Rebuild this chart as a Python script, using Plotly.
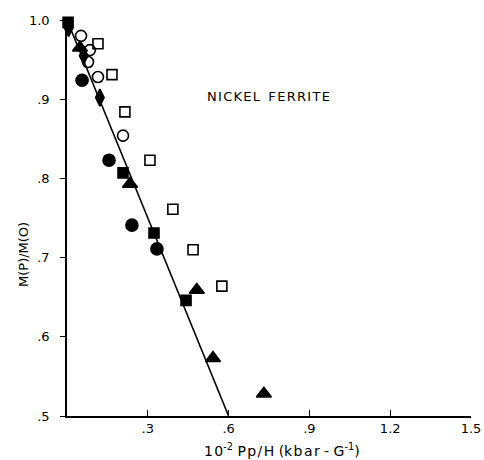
import plotly.graph_objects as go

# Data
open_sq_x = [0.115, 0.167, 0.215, 0.308, 0.393, 0.468, 0.575]
open_sq_y = [0.970, 0.931, 0.884, 0.823, 0.761, 0.710, 0.664]

open_circ_x = [0.052, 0.085, 0.078, 0.115, 0.208]
open_circ_y = [0.980, 0.962, 0.947, 0.928, 0.854]

fill_circ_x = [0.056, 0.156, 0.241, 0.334]
fill_circ_y = [0.924, 0.823, 0.741, 0.711]

fill_sq_x = [0.004, 0.208, 0.323, 0.442]
fill_sq_y = [0.997, 0.807, 0.731, 0.646]

fill_tri_x = [0.048, 0.234, 0.482, 0.542, 0.731]
fill_tri_y = [0.965, 0.793, 0.659, 0.573, 0.528]

fill_dia_x = [0.006, 0.062, 0.122]
fill_dia_y = [0.990, 0.955, 0.902]

fit_x = [0.0, 0.6]
fit_y = [1.0, 0.5]

x_tickvals = [0.3, 0.6, 0.9, 1.2, 1.5]
x_ticktext = [".3", ".6", ".9", "1.2", "1.5"]
y_tickvals = [0.5, 0.6, 0.7, 0.8, 0.9, 1.0]
y_ticktext = [".5", ".6", ".7", ".8", ".9", "1.0"]

FONT = "DejaVu Sans"
fig = go.Figure()

fig.add_trace(go.Scatter(x=fit_x, y=fit_y, mode="lines",
                         line=dict(color="black", width=1.6), cliponaxis=False))

def add(xs, ys, symbol, size):
    fig.add_trace(go.Scatter(x=xs, y=ys, mode="markers", cliponaxis=False,
                             marker=dict(symbol=symbol, size=size, color="black",
                                         line=dict(color="black", width=1.6))))

add(open_sq_x, open_sq_y, "square-open", 10)
add(open_circ_x, open_circ_y, "circle-open", 11)
add(fill_circ_x, fill_circ_y, "circle", 12)
add(fill_sq_x, fill_sq_y, "square", 10)
add(fill_tri_x, fill_tri_y, "triangle-up", 13)
add(fill_dia_x, fill_dia_y, "diamond-tall", 12)

W, H = 484, 460
l, r, t, b = 67, 13, 20, 44
pw, ph = W - l - r, H - t - b

def px2paper(px, py):
    return (px - l) / pw, 1 - (py - t) / ph

HS = "\u200a"
title_txt = HS.join("NICKEL") + "  " + HS.join("FERRITE")
xtitle_txt = HS.join("10") + "<sup>-2</sup> " + HS.join("Pp/H") + " (" + HS.join("kbar") + " - G<sup>-1</sup>)"

anns = []
for text, px, py, ang, sz in [
    (title_txt, 268, 96, 0, 13),
    (xtitle_txt, 282, 450, 0, 14),
    ("M(P)/M(O)", 23, 255, -90, 13),
]:
    ax_, ay_ = px2paper(px, py)
    anns.append(dict(text=text, x=ax_, y=ay_, xref="paper", yref="paper",
                     xanchor="center", yanchor="middle", textangle=ang,
                     showarrow=False, font=dict(size=sz, family=FONT)))

fig.update_layout(
    width=W, height=H,
    margin=dict(l=l, r=r, t=t, b=b, autoexpand=False),
    plot_bgcolor="white", paper_bgcolor="white",
    showlegend=False,
    font=dict(family=FONT, color="black", size=13),
    xaxis=dict(range=[0, 1.5], tickvals=x_tickvals, ticktext=x_ticktext,
               automargin=False,
               ticks="inside", ticklen=6, tickwidth=1.3, tickcolor="black",
               showline=True, linecolor="black", linewidth=1.5,
               showgrid=False, zeroline=False, tickfont=dict(size=13, family=FONT)),
    yaxis=dict(range=[0.5, 1.0], tickvals=y_tickvals, ticktext=y_ticktext,
               automargin=False,
               ticks="outside", ticklen=5, tickwidth=1.3, tickcolor="black",
               ticklabelstandoff=8,
               showline=True, linecolor="black", linewidth=1.5,
               showgrid=False, zeroline=False, tickfont=dict(size=13, family=FONT)),
    annotations=anns,
)

fig.write_html("out.html", config={"displayModeBar": False},
               post_script="document.body.style.margin='0';document.body.style.overflow='hidden';")
